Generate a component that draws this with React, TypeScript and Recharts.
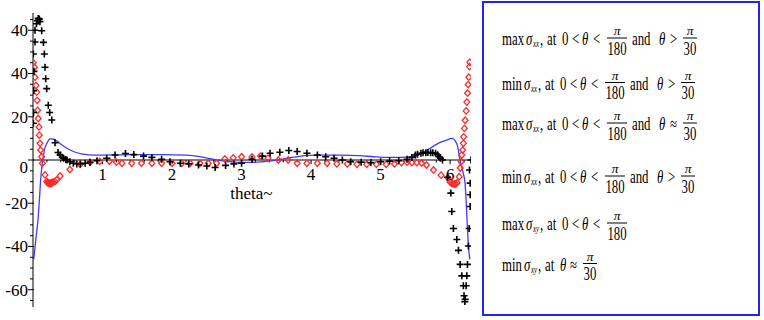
import React from 'react';
import {
  ComposedChart,
  Line,
  Scatter,
  XAxis,
  YAxis,
  ReferenceLine,
  ReferenceDot,
} from 'recharts';

// sigma curve (blue line)
const blueTheta = [0.01, 0.04, 0.076, 0.095, 0.11, 0.125, 0.14, 0.16, 0.2, 0.25, 0.3, 0.35, 0.4, 0.5, 0.6, 0.7, 0.8, 1.0, 1.3, 1.6, 1.9, 2.2, 2.4, 2.55, 2.7, 2.85, 3.0, 3.15, 3.3, 3.45, 3.6, 3.75, 3.9, 4.1, 4.4, 4.7, 4.9, 5.1, 5.3, 5.45, 5.55, 5.65, 5.75, 5.85, 5.95, 6.03, 6.08, 6.11, 6.135, 6.165, 6.195, 6.215, 6.232, 6.248, 6.264, 6.283];
const blueValue = [-46, -37, -26, -17, -9, -4, 0, 4, 7.8, 9.8, 9.6, 8.6, 7.4, 5.2, 3.7, 2.8, 2.4, 2.3, 2.4, 2.5, 2.5, 2.3, 1.6, 0.6, -0.3, -0.8, -1.1, -1.1, -0.8, -0.3, 0.5, 1.3, 2.0, 2.3, 2.3, 2.0, 1.5, 1.2, 1.2, 1.4, 2.4, 4.2, 6.2, 8, 9.2, 10, 8.5, 6, 1, -3, -7, -11, -20, -31, -40, -46];

// red diamonds
const redTheta = [0.004, 0.019, 0.029, 0.043, 0.053, 0.06, 0.068, 0.076, 0.086, 0.091, 0.1, 0.11, 0.125, 0.134, 0.173, 0.197, 0.21, 0.22, 0.23, 0.24, 0.25, 0.26, 0.27, 0.28, 0.29, 0.317, 0.34, 0.39, 0.53, 0.68, 0.82, 0.96, 1.1, 1.2, 1.28, 1.42, 1.56, 1.71, 1.85, 2.0, 2.14, 2.26, 2.4, 2.52, 2.64, 2.76, 2.88, 3.0, 3.15, 3.27, 3.38, 3.53, 3.67, 3.8, 3.94, 4.09, 4.23, 4.37, 4.52, 4.66, 4.8, 4.94, 5.08, 5.2, 5.3, 5.38, 5.45, 5.52, 5.59, 5.66, 5.76, 5.87, 5.97, 6.0, 6.02, 6.04, 6.06, 6.08, 6.1, 6.13, 6.145, 6.158, 6.168, 6.18, 6.19, 6.195, 6.206, 6.216, 6.23, 6.24, 6.25, 6.259, 6.269, 6.278, 6.283];
const redValue = [45, 42.9, 38.3, 34.5, 31.4, 27.6, 23, 19.2, 15.3, 11.5, 7.7, 4.6, 1.5, -1.5, -6.9, -10, -10.4, -10.6, -10.8, -10.8, -10.8, -10.7, -10.6, -10.4, -10.2, -10, -9.2, -7.4, -4.4, -2, -1, -0.6, -0.6, -1, -1.5, -1.5, -1.5, -1.5, -1.5, -1.5, -1.5, -1.5, -1.5, -1.5, -1.5, 0.5, 1, 1.5, 1.4, 1.8, 0.9, 0, 0, -1.5, -1.5, -1.5, -1.5, -1.8, -1.8, -2, -2, -2, -2, -1.8, -1.2, -1, -1.2, -1.2, -1.4, -2.3, -4.6, -7, -8.3, -10.2, -10.8, -11, -11.1, -11, -10.5, -7.7, -3.7, -0.8, 2.3, 4.6, 7.7, 10.7, 14.6, 18.4, 22.7, 26.8, 30.9, 34.9, 38.3, 43.2, 45.2];

// black crosses
const blackTheta = [0.005, 0.007, 0.01, 0.014, 0.005, 0.029, 0.029, 0.05, 0.062, 0.075, 0.085, 0.091, 0.1, 0.125, 0.15, 0.163, 0.173, 0.183, 0.197, 0.22, 0.24, 0.27, 0.317, 0.36, 0.39, 0.42, 0.44, 0.47, 0.49, 0.53, 0.58, 0.63, 0.68, 0.75, 0.82, 0.92, 1.06, 1.18, 1.33, 1.45, 1.59, 1.71, 1.85, 1.97, 2.12, 2.24, 2.38, 2.5, 2.62, 2.77, 2.89, 3.0, 3.15, 3.3, 3.41, 3.55, 3.68, 3.8, 3.94, 4.09, 4.21, 4.33, 4.45, 4.57, 4.72, 4.86, 5.0, 5.13, 5.26, 5.38, 5.45, 5.5, 5.53, 5.58, 5.61, 5.65, 5.68, 5.72, 5.75, 5.79, 5.82, 5.84, 5.86, 5.89, 5.96, 6.01, 6.024, 6.047, 6.096, 6.12, 6.144, 6.168, 6.19, 6.2, 6.216, 6.212, 6.23, 6.24, 6.249, 6.263, 6.273, 6.288, 6.288, 6.288, 6.278, 6.3];
const blackValue = [17, 22, 32, 41, 49, 54.6, 60, 63, 64.4, 65.5, 65, 65.2, 64, 59.8, 54.4, 49, 42.9, 37.6, 33, 25.3, 22, 18.5, 8, 3.5, 2.3, 1.3, 0.8, 0.2, 0, -0.8, -1.5, -1.8, -1.8, -1.5, -1.1, -0.3, 0.8, 2.3, 3, 2.5, 1.8, 1.2, 0.3, -0.8, -1.5, -1.8, -2.3, -2.8, -3.5, -2.5, -1.8, -1.5, 0.3, 1.8, 3.1, 3.6, 4.4, 3.9, 3.1, 2.3, 1.5, 0.8, 0, -0.8, -1, -1.2, -0.8, -0.5, -0.3, 0.3, 1.2, 2.3, 2.7, 3.1, 3.3, 3.4, 3.5, 3.4, 3.3, 3.1, 2.4, 1.5, 0.8, 0, -8, -15.3, -23.8, -31.7, -36.8, -41.8, -48.3, -53.6, -58.2, -62.8, -64.4, -65.5, -58.2, -53.6, -48.3, -39.8, -31.7, -21.5, -16.1, -10.7, -4.6, 0];

const xTicks = [1, 2, 3, 4, 5, 6];
const xTickLabels = ['1', '2', '3', '4', '5', '6'];
const yMajorTicks = [-60, -40, -20, 0, 20, 40, 60];
const yMajorLabels = ['-60', '-40', '-20', '0', '20', '40', '40'];

// legend box text
const formulaFn = ['max', 'min', 'max', 'min', 'max', 'min'];
const formulaSub = ['xx', 'xx', 'xx', 'xx', 'xy', 'xy'];
const formulaRel = ['>', '>', '≈', '>', '', ''];
const formulaBase = [45, 89.5, 130, 183, 230, 270.5];

const FONT = "'Liberation Serif', 'Times New Roman', serif";

const blueData = blueTheta.map((x, i) => ({ x, y: blueValue[i] }));
const redData = redTheta.map((x, i) => ({ x, y: redValue[i] }));
const blackData = blackTheta.map((x, i) => ({ x, y: blackValue[i] }));

const yTicks: number[] = [];
for (let v = -65; v <= 65; v += 5) yTicks.push(v);
const xMinor: number[] = [];
for (let i = 1; i <= 31; i++) if (i % 5 !== 0) xMinor.push(i / 5);

const Plus = (p: any) => {
  const { cx, cy } = p;
  return (
    <path
      d={`M${cx - 3.5},${cy}H${cx + 3.5}M${cx},${cy - 3.5}V${cy + 3.5}`}
      stroke="#000"
      strokeWidth={1.6}
      fill="none"
    />
  );
};

const Diamond = (p: any) => {
  const { cx, cy } = p;
  return (
    <path
      d={`M${cx},${cy - 3.2}L${cx + 2.9},${cy}L${cx},${cy + 3.2}L${cx - 2.9},${cy}Z`}
      fill="none"
      stroke="#ff2a2a"
      strokeWidth={1.3}
    />
  );
};

function YTick(props: any) {
  const { x, y, payload } = props;
  const v = payload.value;
  const idx = yMajorTicks.indexOf(v);
  if (idx < 0) {
    return <line x1={x - 3} x2={x} y1={y} y2={y} stroke="#000" />;
  }
  return (
    <g>
      <line x1={x - 5} x2={x + 1} y1={y} y2={y} stroke="#000" />
      <text
        x={x - 5}
        y={y + (v === 0 ? 7 : 0)}
        dy="0.35em"
        textAnchor="end"
        fontFamily={FONT}
        fontSize={17}
        fill="#000"
      >
        {yMajorLabels[idx]}
      </text>
    </g>
  );
}

// text stretched vertically like the source image
function T({ x, y, s, italic, size = 12.8, anchor = 'start', sy = 1.4 }: any) {
  return (
    <text
      transform={`translate(${x},${y}) scale(1,${sy})`}
      fontFamily={FONT}
      fontSize={size}
      fontStyle={italic ? 'italic' : 'normal'}
      textAnchor={anchor}
      fill="#000"
    >
      {s}
    </text>
  );
}

function Frac({ cx, y, den, half }: any) {
  return (
    <g>
      <T x={cx} y={y - 10} s="π" italic anchor="middle" size={13.5} sy={1} />
      <line x1={cx - half} x2={cx + half} y1={y - 7} y2={y - 7} stroke="#000" strokeWidth={1} />
      <T x={cx} y={y + 9.5} s={den} anchor="middle" />
    </g>
  );
}

function FormulaLine({ i }: { i: number }) {
  const fn = formulaFn[i];
  const B = formulaBase[i];
  const dx = fn === 'min' ? -2 : 0;
  const rel = formulaRel[i];
  return (
    <g>
      <T x={502} y={B} s={fn} />
      <T x={526 + dx} y={B} s="σ" italic />
      <T x={533 + dx} y={B + 2} s={formulaSub[i]} italic size={7} />
      <T x={540 + dx} y={B} s="," />
      <T x={547 + dx} y={B} s="at" />
      {i < 5 ? (
        <g>
          <T x={562 + dx} y={B} s="0" />
          <T x={572 + dx} y={B} s="<" />
          <T x={582 + dx} y={B} s="θ" italic />
          <T x={593 + dx} y={B} s="<" />
          <Frac cx={617 + dx} y={B} den="180" half={10} />
          {rel && (
            <g>
              <T x={632 + dx} y={B} s="and" />
              <T x={659 + dx} y={B} s="θ" italic />
              <T x={670 + dx} y={B} s={rel} />
              <Frac cx={690 + dx} y={B} den="30" half={7} />
            </g>
          )}
        </g>
      ) : (
        <g>
          <T x={562 + dx} y={B} s="θ" italic />
          <T x={572 + dx} y={B} s="≈" />
          <Frac cx={592 + dx} y={B} den="30" half={7} />
        </g>
      )}
    </g>
  );
}

export default function App() {
  return (
    <div style={{ position: 'absolute', left: 0, top: 0, width: 764, height: 320, background: '#fff' }}>
      <ComposedChart width={480} height={320} margin={{ top: 13, right: 9, bottom: 13, left: 0 }}>
        <XAxis type="number" dataKey="x" domain={[0, 6.3]} hide allowDataOverflow />
        <YAxis
          type="number"
          dataKey="y"
          domain={[-68, 68]}
          ticks={yTicks}
          interval={0}
          tick={<YTick />}
          tickLine={false}
          tickSize={0}
          tickMargin={0}
          axisLine={{ stroke: '#000' }}
          width={33}
          allowDataOverflow
        />
        <ReferenceLine y={0} stroke="#000" strokeWidth={1} />
        {xMinor.map((t) => (
          <ReferenceLine key={'m' + t} segment={[{ x: t, y: 0 }, { x: t, y: -1.1 }]} stroke="#000" />
        ))}
        {xTicks.map((t) => (
          <ReferenceLine key={'t' + t} segment={[{ x: t, y: 0 }, { x: t, y: -1.9 }]} stroke="#000" />
        ))}
        {xTicks.map((t, i) => (
          <ReferenceDot
            key={'l' + t}
            x={t}
            y={0}
            r={0}
            fill="none"
            stroke="none"
            label={{ value: xTickLabels[i], position: 'bottom', offset: 8, fill: '#000', fontSize: 17, fontFamily: FONT }}
          />
        ))}
        <ReferenceDot
          x={Math.PI}
          y={0}
          r={0}
          fill="none"
          stroke="none"
          label={{ value: 'theta~', position: 'bottom', offset: 27, fill: '#000', fontSize: 17, fontFamily: FONT }}
        />
        <Line
          data={blueData}
          dataKey="y"
          type="monotone"
          stroke="#3c3cff"
          strokeWidth={1.3}
          dot={false}
          isAnimationActive={false}
        />
        <Scatter data={redData} dataKey="y" shape={Diamond} isAnimationActive={false} />
        <Scatter data={blackData} dataKey="y" shape={Plus} isAnimationActive={false} />
      </ComposedChart>
      <svg width={764} height={320} style={{ position: 'absolute', left: 0, top: 0, pointerEvents: 'none' }}>
        <rect x={483} y={2} width={276} height={313} fill="none" stroke="#2424f0" strokeWidth={2} />
        {formulaFn.map((_, i) => (
          <FormulaLine key={i} i={i} />
        ))}
      </svg>
    </div>
  );
}
